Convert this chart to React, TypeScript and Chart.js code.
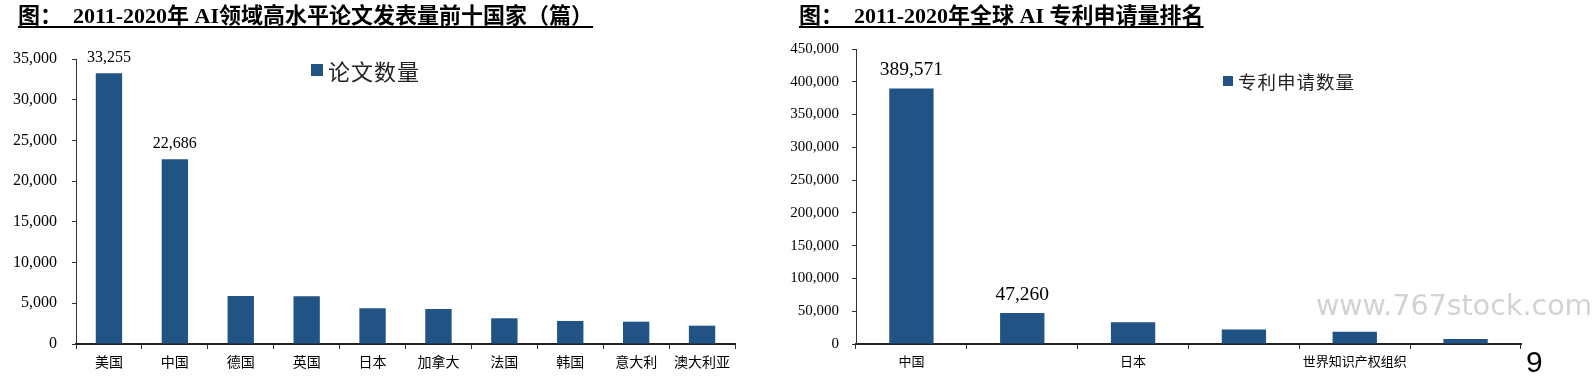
import React, { useEffect, useRef } from "react";
import { Chart, registerables } from "chart.js";

Chart.register(...registerables);

// ---- Left chart data ----
const paperCountries = ["美国", "中国", "德国", "英国", "日本", "加拿大", "法国", "韩国", "意大利", "澳大利亚"];
const paperCounts = [33255, 22686, 5900, 5860, 4390, 4300, 3160, 2830, 2740, 2250];
const paperLabelIdx = [0, 1];
const paperTitle = "图：  2011-2020年 AI领域高水平论文发表量前十国家（篇）";
const paperLegend = "论文数量";
const paperMax = 35000;
const paperStep = 5000;

// ---- Right chart data ----
const patentCountries = ["中国", "美国", "日本", "韩国", "世界知识产权组织", "欧洲专利局"];
const patentCounts = [389571, 47260, 33000, 22300, 18800, 7600];
const patentLabelIdx = [0, 1];
const patentShownTicks = [0, 2, 4];
const patentTitle = "图：  2011-2020年全球 AI 专利申请量排名";
const patentLegend = "专利申请数量";
const patentMax = 450000;
const patentStep = 50000;

const BAR = "#215385";
const SERIF = "'Liberation Serif', 'Noto Sans CJK SC', serif";
const fmt = (v: number) => v.toLocaleString("en-US");

function makeLabelPlugin(idx: number[], fontPx: number, offset: number) {
  return {
    id: "valueLabels",
    afterDatasetsDraw(chart: any) {
      const ctx = chart.ctx;
      const meta = chart.getDatasetMeta(0);
      const data = chart.data.datasets[0].data as number[];
      ctx.save();
      ctx.font = `${fontPx}px ${SERIF}`;
      ctx.fillStyle = "#000";
      ctx.textAlign = "center";
      ctx.textBaseline = "middle";
      idx.forEach((i) => {
        const el = meta.data[i];
        ctx.fillText(fmt(data[i]), el.x, el.y - offset);
      });
      ctx.restore();
    },
  };
}

type Cfg = {
  labels: string[];
  values: number[];
  max: number;
  step: number;
  yWidth: number;
  padTop: number;
  padRight: number;
  xFont: number;
  yFont: number;
  labelIdx: number[];
  labelFont: number;
  labelOffset: number;
  yPad: number;
  shownTicks?: number[];
};

function BarChart({ cfg, width, height }: { cfg: Cfg; width: number; height: number }) {
  const ref = useRef<HTMLCanvasElement>(null);
  useEffect(() => {
    const chart = new Chart(ref.current as HTMLCanvasElement, {
      type: "bar",
      data: {
        labels: cfg.labels,
        datasets: [
          {
            data: cfg.values,
            backgroundColor: BAR,
            borderWidth: 0,
            barPercentage: 0.8,
            categoryPercentage: 0.5,
          },
        ],
      },
      options: {
        responsive: false,
        animation: false,
        devicePixelRatio: 1,
        layout: { padding: { top: cfg.padTop, right: cfg.padRight, left: 0, bottom: 0 } },
        plugins: { legend: { display: false }, tooltip: { enabled: false } },
        scales: {
          x: {
            grid: {
              display: true,
              drawOnChartArea: false,
              drawTicks: true,
              tickLength: 5,
              color: "#333",
              offset: true,
            },
            border: { display: true, color: "#222", width: 2 },
            ticks: {
              autoSkip: false,
              maxRotation: 0,
              padding: 6,
              color: "#000",
              font: { family: SERIF, size: cfg.xFont },
              callback: (_v: any, i: number) =>
                !cfg.shownTicks || cfg.shownTicks.includes(i) ? cfg.labels[i] : "",
            },
            afterFit: (s: any) => {
              s.height = 33;
            },
          },
          y: {
            min: 0,
            max: cfg.max,
            grid: {
              display: true,
              drawOnChartArea: false,
              drawTicks: true,
              tickLength: 4,
              color: "#333",
            },
            border: { display: true, color: "#333", width: 1 },
            ticks: {
              stepSize: cfg.step,
              padding: cfg.yPad,
              color: "#000",
              font: { family: SERIF, size: cfg.yFont },
              callback: (v: any) => fmt(Number(v)),
            },
            afterFit: (s: any) => {
              s.width = cfg.yWidth;
            },
          },
        },
      },
      plugins: [makeLabelPlugin(cfg.labelIdx, cfg.labelFont, cfg.labelOffset)],
    } as any);
    return () => chart.destroy();
  }, []);
  return <canvas ref={ref} width={width} height={height} style={{ width, height, display: "block" }} />;
}

const titleStyle: React.CSSProperties = {
  position: "absolute",
  top: 3,
  fontFamily: SERIF,
  fontWeight: "bold",
  fontSize: 22,
  lineHeight: "26px",
  textDecoration: "underline",
  textDecorationThickness: "1.5px",
  textUnderlineOffset: "3px",
  whiteSpace: "pre",
  color: "#000",
};

function Legend({ left, top, box, font, text }: { left: number; top: number; box: number; font: number; text: string }) {
  return (
    <div
      style={{
        position: "absolute",
        left,
        top,
        display: "flex",
        alignItems: "center",
        fontFamily: SERIF,
        fontSize: font,
        color: "#222",
        whiteSpace: "pre",
        letterSpacing: "1px",
      }}
    >
      <span style={{ display: "inline-block", width: box, height: box, background: BAR, marginRight: 5 }} />
      <span>{text}</span>
    </div>
  );
}

export default function App() {
  return (
    <div style={{ position: "absolute", left: 0, top: 0, width: 1592, height: 377, background: "#fff", overflow: "hidden" }}>
      <div style={{ position: "absolute", left: 0, top: 0 }}>
        <BarChart
          width={760}
          height={377}
          cfg={{
            labels: paperCountries,
            values: paperCounts,
            max: paperMax,
            step: paperStep,
            yWidth: 76,
            padTop: 59,
            padRight: 25,
            xFont: 14,
            yFont: 16,
            labelIdx: paperLabelIdx,
            labelFont: 16,
            labelOffset: 15.5,
            yPad: 15,
          }}
        />
      </div>
      <div style={{ position: "absolute", left: 770, top: 0 }}>
        <BarChart
          width={800}
          height={377}
          cfg={{
            labels: patentCountries,
            values: patentCounts,
            max: patentMax,
            step: patentStep,
            yWidth: 86,
            padTop: 49,
            padRight: 49,
            xFont: 13,
            yFont: 15,
            labelIdx: patentLabelIdx,
            labelFont: 19.5,
            labelOffset: 18.5,
            yPad: 13,
            shownTicks: patentShownTicks,
          }}
        />
      </div>
      <div style={{ ...titleStyle, left: 18 }}>{paperTitle}</div>
      <div style={{ ...titleStyle, left: 799 }}>{patentTitle}</div>
      <Legend left={311} top={54} box={12} font={22} text={paperLegend} />
      <Legend left={1223} top={68} box={10} font={18.5} text={patentLegend} />
      <div
        style={{
          position: "absolute",
          left: 1316,
          top: 289,
          fontFamily: "'DejaVu Sans', sans-serif",
          fontSize: 28.5,
          lineHeight: "34px",
          color: "#d3d3d3",
          whiteSpace: "pre",
        }}
      >
        www.767stock.com
      </div>
      <div
        style={{
          position: "absolute",
          left: 1526,
          top: 345,
          fontFamily: "'Liberation Sans', sans-serif",
          fontSize: 30,
          lineHeight: "34px",
          color: "#000",
        }}
      >
        9
      </div>
    </div>
  );
}
